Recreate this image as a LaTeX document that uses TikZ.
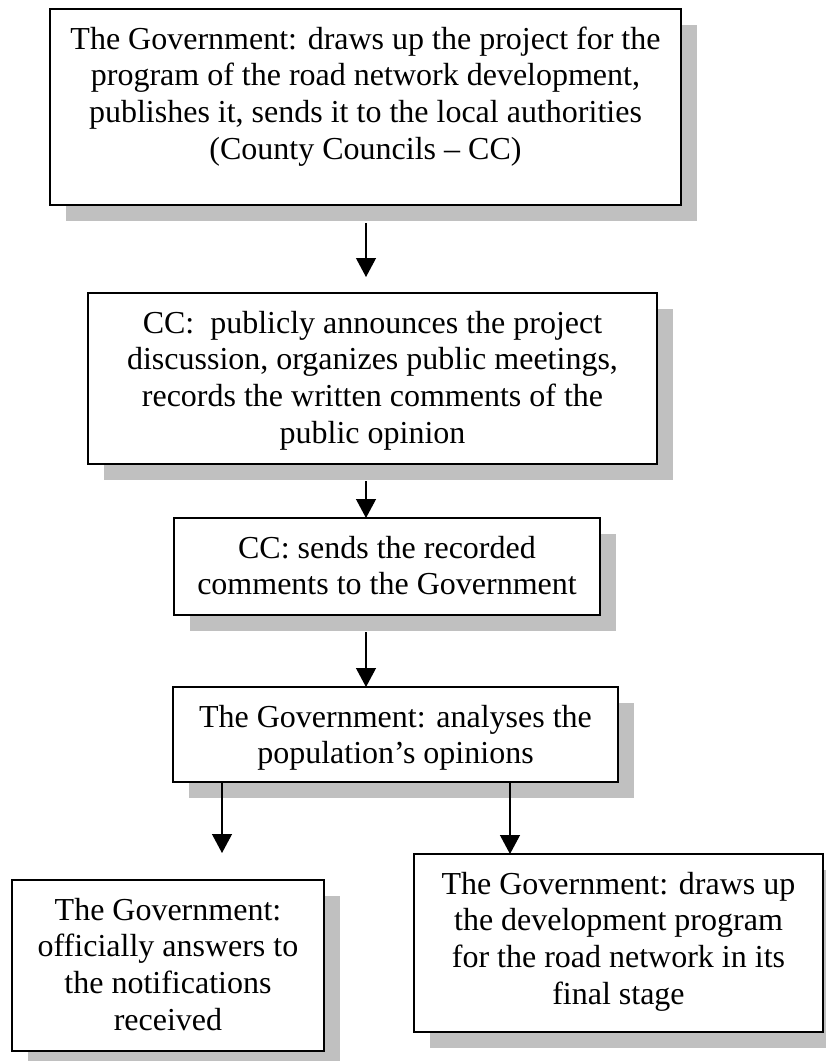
\documentclass[tikz,border=0pt]{standalone}
\usepackage{fontspec}
\setmainfont{Liberation Serif}
\usetikzlibrary{arrows.meta,shadows}
\definecolor{shadowgray}{HTML}{C0C0C0}
\newcommand{\boxtxt}[3]{\parbox[c][#2][t]{#1}{\centering\rule{0pt}{40pt}#3\par}}
\tikzset{
  stepbox/.style={draw, line width=1.5pt, fill=white, inner sep=0pt, outer sep=0pt,
    general shadow={fill=shadowgray, shadow xshift=16pt, shadow yshift=-16pt}},
  arr/.style={-{Triangle[width=20pt,length=19pt]}, line width=1.2pt}
}
\begin{document}
\begin{tikzpicture}[x=1pt,y=-1pt]
\useasboundingbox (0,0) rectangle (826,1061);
\fontsize{32pt}{36.7pt}\selectfont
\node[stepbox] (b1) at (365.5,107) {\boxtxt{631pt}{196pt}{The Government: draws up the project for the\\ program of the road network development,\\ publishes it, sends it to the local authorities\\ (County Councils – CC)}};
\node[stepbox] (b2) at (372.5,378.5) {\boxtxt{569pt}{171pt}{CC:\ \ publicly announces the project\\ discussion, organizes public meetings,\\ records the written comments of the\\ public opinion}};
\node[stepbox] (b3) at (387,566.5) {\boxtxt{426pt}{97pt}{CC: sends the recorded\\ comments to the Government}};
\node[stepbox] (b4) at (395.5,734.5) {\boxtxt{445pt}{95pt}{The Government: analyses the\\ population’s opinions}};
\node[stepbox] (b5) at (168,965.5) {\boxtxt{312pt}{171pt}{The Government:\\ officially answers to\\ the notifications\\ received}};
\node[stepbox] (b6) at (618.5,943) {\boxtxt{409pt}{178pt}{The Government: draws up\\ the development program\\ for the road network in its\\ final stage}};
\coordinate (t1) at (366,277);
\coordinate (t4) at (222,853);
\coordinate (t5) at (510,853);
\draw[arr] ([yshift=-18pt]b1.south -| t1) -- (t1);
\draw[arr] ([yshift=-17pt]b2.south -| t1) -- (b3.north -| t1);
\draw[arr] ([yshift=-17pt]b3.south -| t1) -- (b4.north -| t1);
\draw[arr] (b4.south -| t4) -- (t4);
\draw[arr] (b4.south -| t5) -- (b6.north -| t5);
\end{tikzpicture}
\end{document}
